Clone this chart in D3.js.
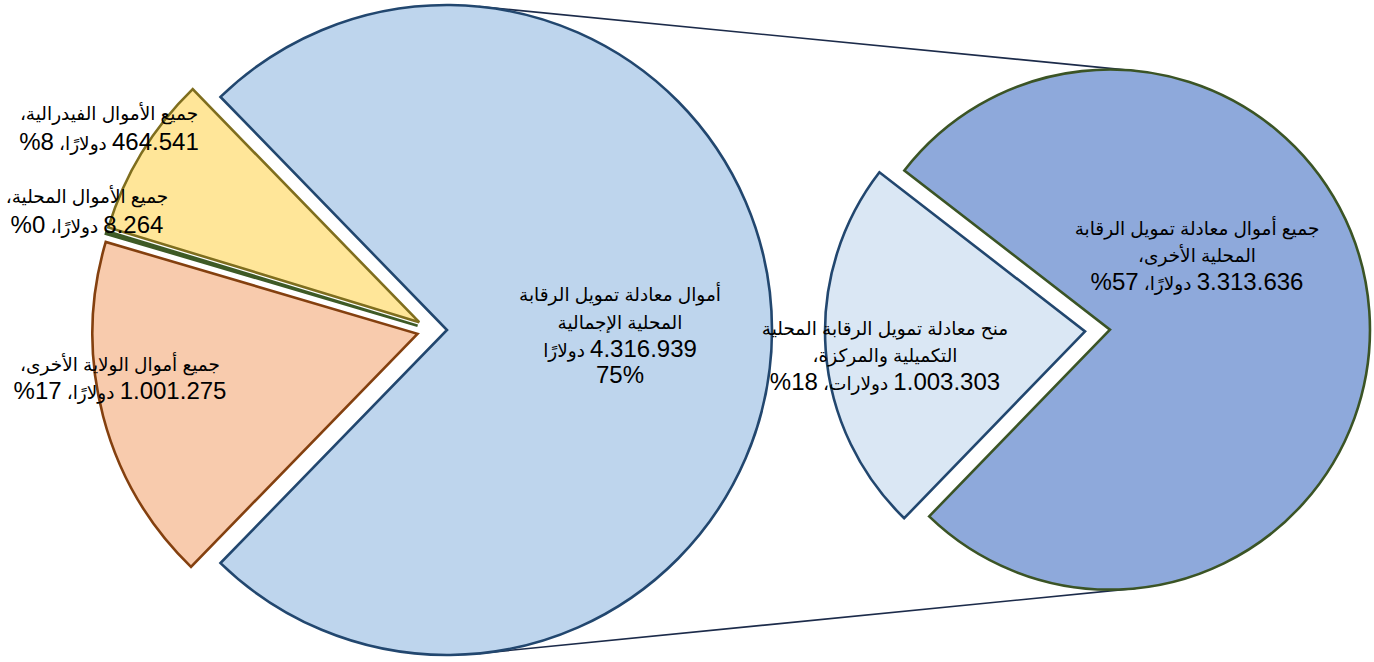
<!DOCTYPE html>
<html>
<head>
<meta charset="utf-8">
<script src="https://cdn.jsdelivr.net/npm/d3@7"></script>
<style>
  html, body { margin: 0; padding: 0; background: #ffffff; }
  svg { display: block; }
  text { font-family: "Liberation Sans", Arial, "DejaVu Sans", sans-serif; fill: #000; }
  tspan.ar { font-size: 18.5px; }
  tspan.num { font-size: 24px; }
</style>
</head>
<body>
<svg id="chart" width="1374" height="662"></svg>
<script>
// ---- Data ----
const primaryCategories = [
  "أموال معادلة تمويل الرقابة المحلية الإجمالية",
  "جميع أموال الولاية الأخرى",
  "جميع الأموال المحلية",
  "جميع الأموال الفيدرالية"
];
const primaryValues = [4316939, 1001275, 8264, 464541];
const primaryLabels = [
  ["أموال معادلة تمويل الرقابة", "المحلية الإجمالية", "4.316.939 دولارًا", "75%"],
  ["جميع أموال الولاية الأخرى،", "1.001.275 دولارًا، 17%"],
  ["جميع الأموال المحلية،", "8.264 دولارًا، 0%"],
  ["جميع الأموال الفيدرالية،", "464.541 دولارًا، 8%"]
];
const secondaryCategories = [
  "منح معادلة تمويل الرقابة المحلية التكميلية والمركزة",
  "جميع أموال معادلة تمويل الرقابة المحلية الأخرى"
];
const secondaryValues = [1003303, 3313636];
const secondaryLabels = [
  ["منح معادلة تمويل الرقابة المحلية", "التكميلية والمركزة،", "1.003.303 دولارات، 18%"],
  ["جميع أموال معادلة تمويل الرقابة", "المحلية الأخرى،", "3.313.636 دولارًا، 57%"]
];

// ---- Styles / layout ----
const primaryFill   = ["#BED5ED", "#F8CBAD", "#4F6B2E", "#FFE699"];
const primaryStroke = ["#22476F", "#84400F", "#3E5A26", "#7F6E1E"];
const secondaryFill   = ["#DAE7F4", "#8EA9DB"];
const secondaryStroke = ["#22476F", "#3B5425"];

const P1 = { cx: 432, cy: 330, r: 325, explode: 15 };
const P2 = { cx: 1097.5, cy: 330.5, r: 260, explode: 12.5, rotateDeg: -4.1 };

const primaryLabelPos = [
  { x: 620, ys: [301, 329, 357, 383] },
  { x: 120, ys: [371, 399] },
  { x: 87,  ys: [203, 233] },
  { x: 109, ys: [120, 150] }
];
const secondaryLabelPos = [
  { x: 885, ys: [335, 362, 390] },
  { x: 1197, ys: [235, 262, 290] }
];

const svg = d3.select("#chart");
const gLines = svg.append("g");
const gPies = svg.append("g");
const gLabels = svg.append("g");

const total1 = d3.sum(primaryValues);
const frac0 = primaryValues[0] / total1;
const start1 = Math.PI / 2 - frac0 * Math.PI;
const pie1 = d3.pie().sort(null).startAngle(start1).endAngle(start1 + 2 * Math.PI);
const arcs1 = pie1(primaryValues);

const total2 = d3.sum(secondaryValues);
const fracS0 = secondaryValues[0] / total2;
const rot = P2.rotateDeg * Math.PI / 180;
const start2 = 1.5 * Math.PI + rot - fracS0 * Math.PI;
const pie2 = d3.pie().sort(null).startAngle(start2).endAngle(start2 + 2 * Math.PI);
const arcs2 = pie2(secondaryValues);

function offset(a, e) {
  const m = (a.startAngle + a.endAngle) / 2;
  return [e * Math.sin(m), -e * Math.cos(m)];
}

function drawPie(arcs, P, fills, strokes) {
  const arcGen = d3.arc().innerRadius(0).outerRadius(P.r);
  gPies.append("g").selectAll("path")
    .data(arcs)
    .join("path")
    .attr("transform", d => {
      const o = offset(d, P.explode);
      return `translate(${P.cx + o[0]},${P.cy + o[1]})`;
    })
    .attr("d", arcGen)
    .attr("fill", (d, i) => fills[i])
    .attr("stroke", (d, i) => strokes[i])
    .attr("stroke-width", 2.6)
    .attr("stroke-linejoin", "miter");
}

// connector lines: external common tangents of the two big slices
const o1 = offset(arcs1[0], P1.explode);
const o2 = offset(arcs2[1], P2.explode);
const c1 = [P1.cx + o1[0], P1.cy + o1[1]];
const c2 = [P2.cx + o2[0], P2.cy + o2[1]];
const dx = c2[0] - c1[0], dy = c2[1] - c1[1];
const dist = Math.hypot(dx, dy);
const ux = dx / dist, uy = dy / dist;
const k = (P1.r - P2.r) / dist;
const h = Math.sqrt(1 - k * k);
[[uy, -ux], [-uy, ux]].forEach(([px, py]) => {
  const nx = k * ux + h * px, ny = k * uy + h * py;
  gLines.append("line")
    .attr("x1", c1[0] + P1.r * nx).attr("y1", c1[1] + P1.r * ny)
    .attr("x2", c2[0] + P2.r * nx).attr("y2", c2[1] + P2.r * ny)
    .attr("stroke", "#1C2B4A")
    .attr("stroke-width", 1.6);
});

drawPie(arcs1, P1, primaryFill, primaryStroke);
drawPie(arcs2, P2, secondaryFill, secondaryStroke);

function drawLabels(labels, pos) {
  labels.forEach((lines, i) => {
    lines.forEach((ln, j) => {
      const t = gLabels.append("text")
        .attr("direction", "rtl")
        .attr("text-anchor", "middle")
        .attr("x", pos[i].x)
        .attr("y", pos[i].ys[j]);
      ln.split(/([0-9.%]+)/).filter(s => s.length).forEach(seg => {
        t.append("tspan")
          .attr("class", /^[0-9.%]+$/.test(seg) ? "num" : "ar")
          .text(seg);
      });
    });
  });
}
drawLabels(primaryLabels, primaryLabelPos);
drawLabels(secondaryLabels, secondaryLabelPos);
</script>
</body>
</html>
